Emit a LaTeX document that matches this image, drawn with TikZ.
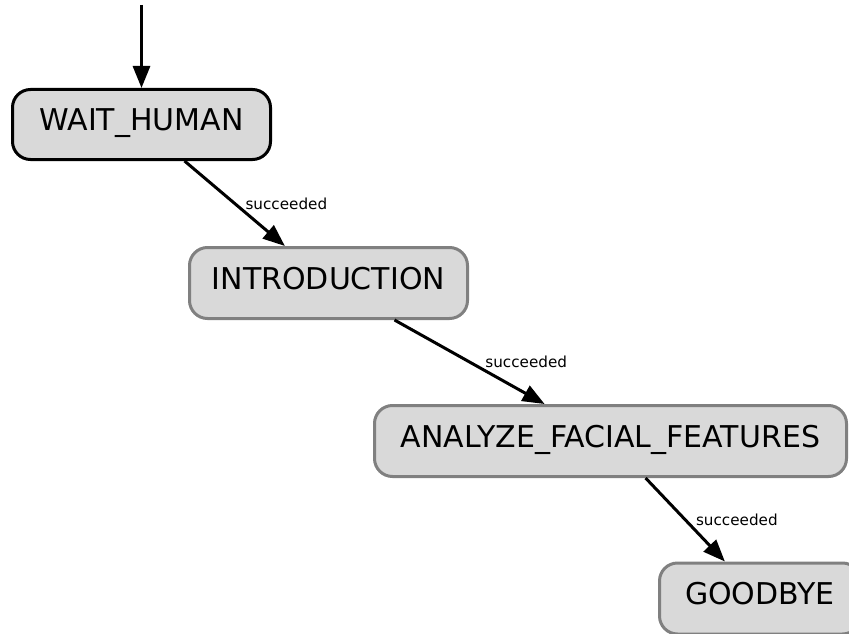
\documentclass[tikz,border=0pt]{standalone}
\usepackage{fontspec}
\setmainfont{DejaVu Sans}
\usetikzlibrary{arrows.meta}
\definecolor{boxfill}{RGB}{217,217,217}
\definecolor{boxline}{RGB}{128,128,128}

\begin{document}
\begin{tikzpicture}[x=1pt, y=-1pt,
        smbox/.style={draw=boxline, fill=boxfill, line width=3pt, rounded corners=18pt,
            minimum height=71pt, inner sep=0pt, text height=21.9pt, text depth=9pt,
            font=\fontsize{30}{36}\selectfont},
        trans/.style={line width=3pt, -{Triangle[length=22pt, width=17pt]}},
        lbl/.style={font=\fontsize{15.2}{18}\selectfont, right, xshift=6pt}]
        \useasboundingbox (0, 0) rectangle (849, 634);
        \clip (0, 0) rectangle (849, 634);

        \node[smbox, draw=black, minimum width=258pt, minimum height=70pt] (wait) at (141.5, 124.5) {WAIT\_HUMAN};
        \node[smbox, minimum width=278pt] (intro) at (328.5, 283) {INTRODUCTION};
        \node[smbox, minimum width=472pt] (analyze) at (610.5, 441) {ANALYZE\_FACIAL\_FEATURES};
        \node[smbox, minimum width=201pt] (bye) at (760, 598.5) {GOODBYE};

        \coordinate (start) at (141.5, 5);
        \draw[trans] (start) -- (wait);
        \draw[trans] (wait) -- node[lbl] {succeeded} (intro);
        \draw[trans] (intro) -- node[lbl, xshift=5pt] {succeeded} (analyze);
        \draw[trans] (analyze) -- node[lbl] {succeeded} (bye);
    \end{tikzpicture}
\end{document}
